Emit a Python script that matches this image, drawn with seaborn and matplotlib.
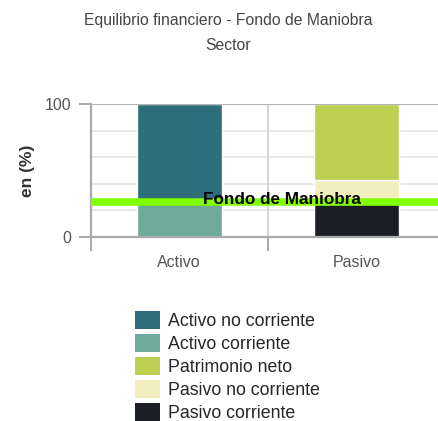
import pandas as pd
import seaborn as sns
import matplotlib.pyplot as plt
from matplotlib.patches import Patch

# data (percent)
categories = ['Activo', 'Pasivo']
activo_no_corriente = 74.0
activo_corriente = 26.0
patrimonio_neto = 57.0
pasivo_no_corriente = 18.0
pasivo_corriente = 25.0
fondo_maniobra = 26.3

segment_names = ['Activo no corriente', 'Activo corriente', 'Patrimonio neto',
                 'Pasivo no corriente', 'Pasivo corriente']
segment_colors = ['#2e6e7a', '#6fa99a', '#bccf50', '#f3eebe', '#1c1e26']

sns.set_style('white')
plt.rcParams['font.family'] = ['Liberation Sans', 'DejaVu Sans']


def stacked_tops():
    """Cumulative tops, drawn back to front so lower pieces cover upper."""
    rows = [
        ('Activo', activo_no_corriente + activo_corriente, 0),
        ('Activo', activo_corriente, 1),
        ('Pasivo', pasivo_corriente + pasivo_no_corriente + patrimonio_neto, 2),
        ('Pasivo', pasivo_corriente + pasivo_no_corriente, 3),
        ('Pasivo', pasivo_corriente, 4),
    ]
    return pd.DataFrame(rows, columns=['cat', 'top', 'seg'])


def main():
    fig = plt.figure(figsize=(4.38, 4.21), dpi=100)
    ax = fig.add_axes([0.207, 0.437, 0.809, 0.316])

    df = stacked_tops()
    for _, row in df.iterrows():
        sns.barplot(x=[row['cat']], y=[row['top']], order=categories,
                    color=segment_colors[row['seg']], saturation=1,
                    width=0.48, ax=ax, zorder=2)

    ax.set_xlim(-0.5, 1.5)
    ax.set_ylim(0, 100)

    # grid
    for v in [20, 40, 60, 80]:
        ax.axhline(v, color='#e4e4e4', lw=1.2, zorder=0)
    ax.axhline(100, color='#b4b4b4', lw=1.6, zorder=3)
    ax.axvline(0.5, color='#cccccc', lw=1.2, zorder=0)

    for side in ['top', 'right']:
        ax.spines[side].set_visible(False)
    for side in ['left', 'bottom']:
        ax.spines[side].set_color('#aaaaaa')
        ax.spines[side].set_linewidth(1.6)
        ax.spines[side].set_zorder(4)

    ax.set_yticks([0, 100])
    ax.set_yticklabels(['0', '100'])
    ax.tick_params(axis='y', length=9, width=1.4, color='#aaaaaa',
                   labelsize=11.5, labelcolor='#555555', pad=5, left=True)
    ax.set_xticks([-0.5, 0.5, 1.5])
    ax.set_xticklabels(['', '', ''])
    ax.set_xticks([0, 1], minor=True)
    ax.set_xticklabels(categories, minor=True)
    ax.tick_params(axis='x', which='major', length=10, width=1.4,
                   color='#aaaaaa', bottom=True)
    ax.tick_params(axis='x', which='minor', length=0, labelsize=11.5,
                   labelcolor='#555555', pad=13)

    ax.set_xlabel('')
    ax.set_ylabel('en (%)', fontsize=12.5, fontweight='bold', color='#333333',
                  labelpad=7)

    # working capital line
    ax.axhline(fondo_maniobra, color='#7fff00', lw=5.4, zorder=5)
    ax.text(0.58, fondo_maniobra + 2, 'Fondo de Maniobra', ha='center',
            va='center', fontsize=12.3, fontweight='bold', color='black',
            zorder=6)

    fig.text(0.52, 0.921, 'Equilibrio financiero - Fondo de Maniobra\nSector',
             ha='center', va='center', fontsize=11.3, color='#444444',
             linespacing=1.8)

    handles = [Patch(facecolor=c, edgecolor='none') for c in segment_colors]
    fig.legend(handles, segment_names, loc='center', bbox_to_anchor=(0.52, 0.13),
               frameon=False, fontsize=12.8, handlelength=1.4,
               handleheight=1.2, handletextpad=0.45, labelspacing=0.22)

    fig.savefig('out.png', dpi=100)


if __name__ == '__main__':
    main()
